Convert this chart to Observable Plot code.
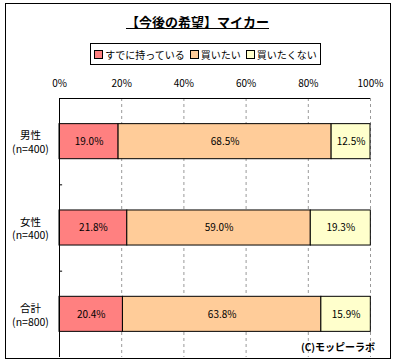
<!DOCTYPE html>
<html>
<head>
<meta charset="utf-8">
<script src="https://cdn.jsdelivr.net/npm/d3@7"></script>
<script src="https://cdn.jsdelivr.net/npm/@observablehq/plot@0.6"></script>
<style>
  html, body { margin: 0; padding: 0; background: #fff; }
  #wrap { position: relative; width: 395px; height: 363px; font-family: "Noto Sans CJK JP", sans-serif; color: #000; }
  #border { position: absolute; left: 5px; top: 3px; width: 384px; height: 354px; border: 1px solid #000; box-sizing: content-box; }
  #title { position: absolute; left: 0; width: 395px; top: 12px; text-align: center; font-size: 13px; font-weight: bold; }
  #title span { text-decoration: underline; }
  #legend { position: absolute; left: 90px; top: 43px; width: 229px; height: 20px; border: 1px solid #000; display: flex; align-items: center; justify-content: center; gap: 5px; font-size: 10px; }
  #legend .item { display: flex; align-items: center; gap: 2px; }
  #legend .sw { width: 7px; height: 7px; border: 1px solid #000; display: inline-block; }
  #credit { position: absolute; right: 20px; top: 339px; font-size: 10px; font-weight: bold; }
  #chart { position: absolute; left: 0; top: 0; }
</style>
</head>
<body>
<div id="wrap">
  <div id="chart"></div>
  <div id="border"></div>
  <div id="title"><span>【今後の希望】マイカー</span></div>
  <div id="legend"></div>
  <div id="credit">(C)モッピーラボ</div>
</div>
<script>
const groups = ["男性", "女性", "合計"];
const sampleSizes = ["(n=400)", "(n=400)", "(n=800)"];
const series = ["すでに持っている", "買いたい", "買いたくない"];
const colors = ["#FF8080", "#FFCC99", "#FFFFCC"];
const owned = [19.0, 21.8, 20.4];
const wantToBuy = [68.5, 59.0, 63.8];
const dontWant = [12.5, 19.3, 15.9];
const xTicks = [0, 20, 40, 60, 80, 100];

const seriesValues = [owned, wantToBuy, dontWant];
const rows = [];
groups.forEach((g, i) => {
  let acc = 0;
  series.forEach((s, k) => {
    const v = seriesValues[k][i];
    rows.push({group: g, i, series: s, value: v, x1: acc, x2: acc + v});
    acc += v;
  });
});
const labels = groups.map((g, i) => ({i, text: g + "\n" + sampleSizes[i]}));

const legend = document.getElementById("legend");
series.forEach((s, k) => {
  const item = document.createElement("span");
  item.className = "item";
  item.innerHTML = `<span class="sw" style="background:${colors[k]}"></span><span>${s}</span>`;
  legend.appendChild(item);
});

const half = 0.203;
const chart = Plot.plot({
  width: 395,
  height: 363,
  marginLeft: 59,
  marginRight: 25,
  marginTop: 98,
  marginBottom: 6,
  style: {fontFamily: "'Noto Sans CJK JP', sans-serif", fontSize: "10px", background: "transparent"},
  x: {domain: [0, 100]},
  y: {domain: [-0.5, 2.5], reverse: true, axis: null},
  color: {domain: series, range: colors},
  marks: [
    Plot.ruleX(xTicks.slice(1), {stroke: "#999", strokeDasharray: "3,3"}),
    Plot.rect(rows, {x1: "x1", x2: "x2", y1: d => d.i - half, y2: d => d.i + half, fill: "series", stroke: "#000", strokeWidth: 1}),
    Plot.text(rows, {x: d => (d.x1 + d.x2) / 2, y: "i", text: d => d.value.toFixed(1) + "%", fontSize: 10}),
    Plot.ruleY([0.5, 1.5], {x1: 0, x2: 1, stroke: "#000"}),
    Plot.ruleX([0], {stroke: "#000"}),
    Plot.ruleY([-0.5], {stroke: "#000"}),
    Plot.axisX(xTicks, {anchor: "top", tickSize: 0, tickPadding: 12, tickFormat: d => d + "%", fontSize: 10}),
    Plot.text(labels, {x: 0, y: "i", text: "text", dx: -29, textAnchor: "middle", fontSize: 10.5, lineHeight: 1.3})
  ]
});
document.getElementById("chart").appendChild(chart);
</script>
</body>
</html>
